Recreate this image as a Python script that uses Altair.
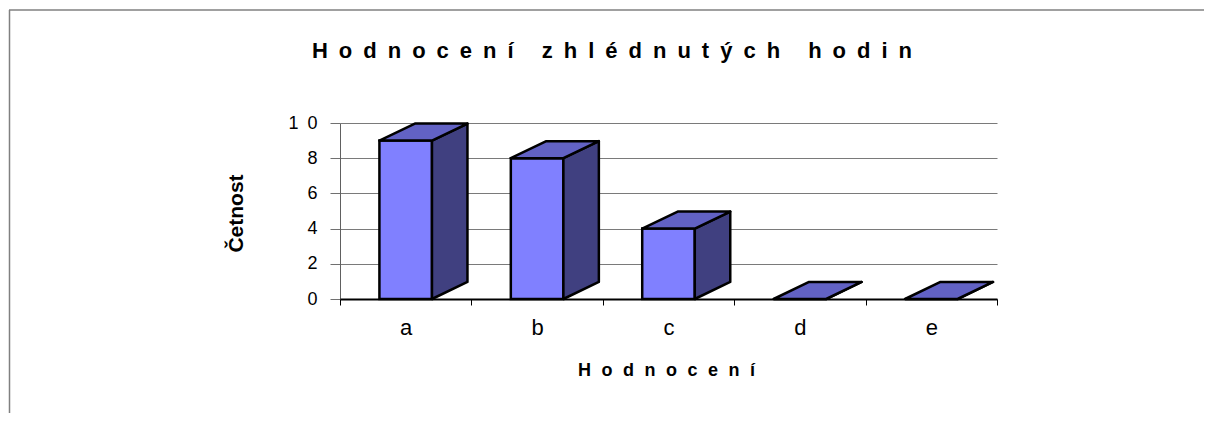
import json
import altair as alt
import pandas as pd

# ---- data ----
TITLE = "Hodnocení zhlédnutých hodin"
X_TITLE = "Hodnocení"
Y_TITLE = "Četnost"
cats = ["a", "b", "c", "d", "e"]
values = [9, 8, 4, 0, 0]
y_ticks = [0, 2, 4, 6, 8, 10]
y_tick_labels = ["0", "2", "4", "6", "8", "1\u20020"]

# ---- style constants ----
FONT = "Liberation Sans"
W, H = 657, 176
HALF = 0.2      # half width of bar front (in category units)
DX = 0.27       # 3D depth, horizontal (category units)
DY = 0.97       # 3D depth, vertical (value units)
FRONT, TOP, SIDE = "#8080FF", "#6262C4", "#404080"
EDGE = 2.5


def spaced(s, sep="\u2002"):
    return sep.join(list(s))


n = len(cats)
front = pd.DataFrame({
    "cat": cats,
    "v": values,
    "base": [0] * n,
    "x0": [i + 0.5 - HALF for i in range(n)],
    "x1": [i + 0.5 + HALF for i in range(n)],
})

side_rows, top_rows = [], []
for i, (c, v) in enumerate(zip(cats, values)):
    x0, x1 = i + 0.5 - HALF, i + 0.5 + HALF
    side_rows.append({"cat": c, "x": x1, "lo": 0, "hi": v})
    side_rows.append({"cat": c, "x": x1 + DX, "lo": DY, "hi": v + DY})
    top_rows.append({"cat": c, "y": v, "xl": x0, "xr": x1})
    top_rows.append({"cat": c, "y": v + DY, "xl": x0 + DX, "xr": x1 + DX})
side = pd.DataFrame(side_rows)
topf = pd.DataFrame(top_rows)

xs = alt.Scale(domain=[0, n], nice=False, zero=False)
ys = alt.Scale(domain=[0, 10], nice=False)

xaxis = alt.Axis(
    values=list(range(n + 1)),
    labelExpr=f"{json.dumps(cats)}[datum.value] || ''",
    labelOffset=W / n / 2,
    labelFlush=False, labelOverlap=False, labelBound=False,
    grid=False,
    domainColor="black", domainWidth=2,
    tickColor="black", tickWidth=1, tickSize=6,
    labelFont=FONT, labelFontSize=22, labelColor="black",
    labelPadding=29, labelBaseline="alphabetic",
    title=spaced(X_TITLE, "\u2002\u200a"),
    titleFont=FONT, titleFontSize=18, titleFontWeight="bold", titleColor="black",
    titleX=326, titleY=76, titleBaseline="alphabetic", titleAlign="center",
    zindex=1,
)
yaxis = alt.Axis(
    values=y_ticks,
    labelExpr=f"{json.dumps(y_tick_labels)}[indexof({json.dumps(y_ticks)}, datum.value)]",
    grid=True, gridColor="#7a7a7a", gridWidth=1,
    domainColor="#606060", domainWidth=1,
    tickColor="#707070", tickSize=10, tickWidth=1,
    labelFont=FONT, labelFontSize=18, labelColor="black", labelPadding=13,
    title=Y_TITLE,
    titleFont=FONT, titleFontSize=21, titleFontWeight="bold", titleColor="black",
    titleX=-98, titleY=90, titleAngle=-90, titleBaseline="alphabetic", titleAlign="center",
    zindex=0,
)

one = alt.Data(values=[{}])

frame_top = alt.Chart(one).mark_rule(color="#808080", strokeWidth=1.5).encode(
    x=alt.value(-331), x2=alt.value(870), y=alt.value(-113))
frame_left = alt.Chart(one).mark_rule(color="#808080", strokeWidth=1.5).encode(
    x=alt.value(-330.5), y=alt.value(-113), y2=alt.value(290))

title = alt.Chart(one).mark_text(
    text=spaced(TITLE), font=FONT, fontSize=22, fontWeight="bold",
    align="center", baseline="alphabetic", color="black",
).encode(x=alt.value(272), y=alt.value(-65))

front_l = alt.Chart(front).mark_rect(
    fill=FRONT, stroke="black", strokeWidth=EDGE
).encode(
    x=alt.X("x0:Q", scale=xs, axis=xaxis),
    x2="x1:Q",
    y=alt.Y("v:Q", scale=ys, axis=yaxis),
    y2="base:Q",
)

side_l = alt.Chart(side).mark_area(
    fill=SIDE, stroke="black", strokeWidth=EDGE, strokeJoin="round"
).encode(
    x=alt.X("x:Q", scale=xs, axis=xaxis),
    y=alt.Y("hi:Q", scale=ys, axis=yaxis),
    y2="lo:Q",
    detail="cat:N",
)

top_l = alt.Chart(topf).mark_area(
    orient="horizontal", fill=TOP, stroke="black", strokeWidth=EDGE, strokeJoin="round"
).encode(
    y=alt.Y("y:Q", scale=ys, axis=yaxis),
    x=alt.X("xl:Q", scale=xs, axis=xaxis),
    x2="xr:Q",
    detail="cat:N",
)

chart = alt.layer(front_l, side_l, top_l, frame_top, frame_left, title).properties(
    width=W, height=H,
    autosize=alt.AutoSizeParams(type="none"),
    padding={"left": 332, "top": 115, "right": 207, "bottom": 114},
).configure_view(stroke=None)

chart.save("out.html", embed_options={"renderer": "svg", "actions": False})
